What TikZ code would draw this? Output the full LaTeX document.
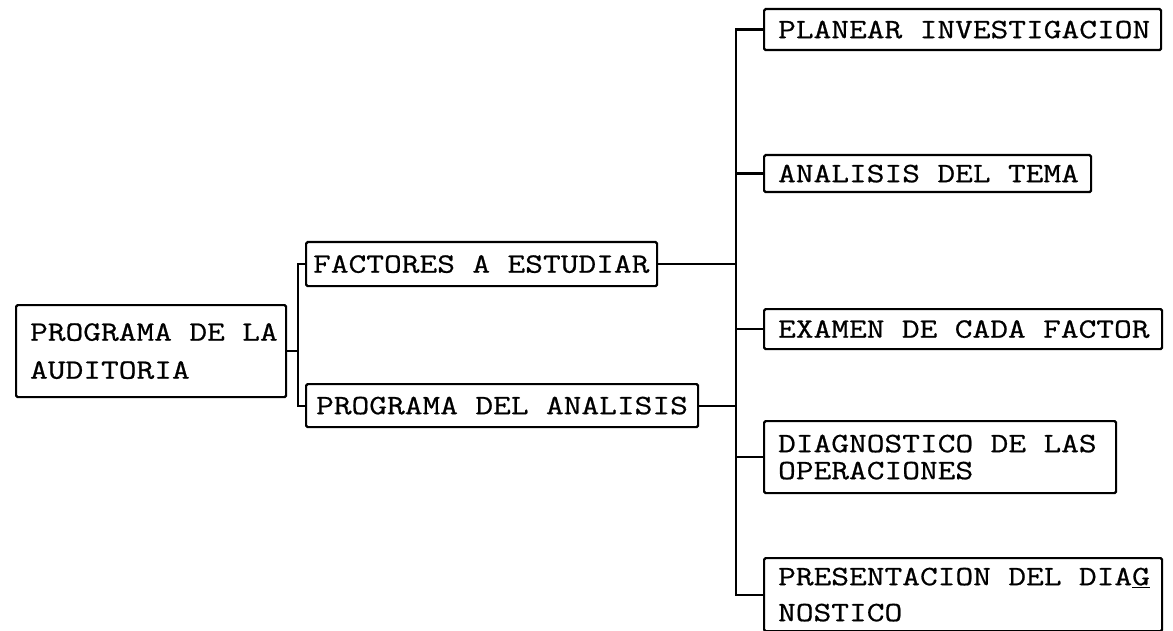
\documentclass[tikz,border=0pt]{standalone}
\usepackage{fontspec}
\newfontfamily\tw[FakeStretch=1.23,FakeBold=0.7]{Latin Modern Mono}
\newcommand\nohy{\lefthyphenmin=62 \righthyphenmin=62 \hyphenpenalty=10000 }
\newcommand\ws{\kern17.4pt\relax}
\tikzset{
  box/.style={draw, line width=2.2pt, anchor=north west, align=left, inner ysep=0pt,
    rounded corners=1.5pt, font=\tw\nohy\fontsize{28pt}{38pt}\selectfont},
  conn/.style={line width=2.2pt}
}
\begin{document}
\begin{tikzpicture}[x=1pt,y=-1pt]
\useasboundingbox (0,0) rectangle (1173,631);
% left boxes
\node[box, inner xsep=14pt, text width=242pt, minimum height=92pt] (root) at (15,304)
  {PROGRAMA\ws DE\ws LA\\AUDITORIA};
\node[box, inner xsep=7pt, text width=337pt, minimum height=44pt] (fact) at (305,241)
  {FACTORES\ws A\ws ESTUDIAR};
\node[box, inner xsep=10pt, text width=372pt, minimum height=43pt] (prog) at (305,383)
  {PROGRAMA\ws DEL\ws ANALISIS};
% right boxes
\node[box, inner xsep=14pt, text width=369pt, minimum height=41pt] (plan) at (763,8)
  {PLANEAR\ws INVESTIGACION};
\node[box, inner xsep=14pt, text width=299pt, minimum height=37pt] (tema) at (763,154)
  {ANALISIS\ws DEL\ws TEMA};
\node[box, inner xsep=14pt, text width=370pt, minimum height=40pt] (exam) at (763,308)
  {EXAMEN\ws DE\ws CADA\ws FACTOR};
\node[box, inner xsep=14pt, text width=324pt, minimum height=72pt,
  font=\tw\nohy\fontsize{28pt}{27pt}\selectfont] (diag) at (763,420)
  {DIAGNOSTICO\ws DE\ws LAS\\OPERACIONES};
\node[box, inner xsep=14pt, text width=370pt, minimum height=73pt,
  font=\tw\nohy\fontsize{28pt}{36pt}\selectfont] (pres) at (763,557)
  {PRESENTACION\ws DEL\ws DIA\underline{G}\\NOSTICO};
% junctions
\coordinate (j) at (298,352);
\coordinate (t) at (736,0);
% connectors
\draw[conn] (root.east) -- (root.east -| j);
\draw[conn] (fact.west) -| (j) |- (prog.west);
\draw[conn] (fact.east) -- (fact.east -| t);
\draw[conn] (prog.east) -- (prog.east -| t);
\draw[conn] (plan.west) -- (plan.west -| t) -- (pres.west -| t) -- (pres.west);
\foreach \n in {tema,exam,diag} \draw[conn] (\n.west) -- (\n.west -| t);
\end{tikzpicture}
\end{document}
